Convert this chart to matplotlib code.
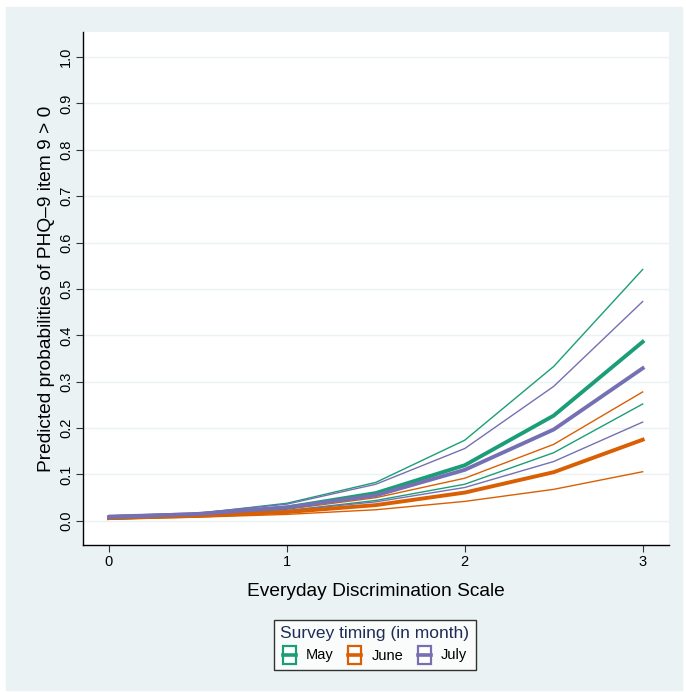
import matplotlib
matplotlib.use("Agg")
import matplotlib.pyplot as plt
from matplotlib.lines import Line2D
from matplotlib.patches import Rectangle
from matplotlib.legend_handler import HandlerBase

plt.rcParams["font.family"] = ["Liberation Sans", "DejaVu Sans"]

# Everyday Discrimination Scale values
eds = [0, 0.5, 1, 1.5, 2, 2.5, 3]

# predicted probabilities (thick) and 95% CI bounds (thin)
may_pred = [0.006, 0.013, 0.029, 0.060, 0.120, 0.227, 0.386]
may_lo = [0.004, 0.010, 0.022, 0.044, 0.079, 0.147, 0.252]
may_hi = [0.011, 0.016, 0.038, 0.083, 0.174, 0.333, 0.542]

june_pred = [0.006, 0.011, 0.019, 0.034, 0.061, 0.105, 0.175]
june_lo = [0.004, 0.008, 0.014, 0.024, 0.042, 0.068, 0.106]
june_hi = [0.009, 0.014, 0.025, 0.050, 0.092, 0.165, 0.278]

july_pred = [0.008, 0.015, 0.029, 0.055, 0.110, 0.197, 0.329]
july_lo = [0.005, 0.012, 0.022, 0.041, 0.072, 0.128, 0.213]
july_hi = [0.012, 0.017, 0.036, 0.079, 0.156, 0.290, 0.473]

months = ["May", "June", "July"]
colors = ["#1b9e77", "#d95f02", "#7570b3"]
series = [(may_pred, may_lo, may_hi), (june_pred, june_lo, june_hi),
          (july_pred, july_lo, july_hi)]

BG = "#eaf2f3"
W, H = 686, 692


class BoxKey(HandlerBase):
    """Stata-style key: outlined box with the estimate line through the middle."""
    def create_artists(self, legend, orig, xd, yd, width, height, fontsize, trans):
        c = orig.get_color()
        box = Rectangle((-xd, -yd), width, height, facecolor="white",
                        edgecolor=c, lw=1.6, transform=trans)
        mid = -yd + height / 2
        line = Line2D([-xd, -xd + width], [mid, mid], color=c, lw=2.6,
                      transform=trans)
        return [box, line]


fig = plt.figure(figsize=(W / 100, H / 100), dpi=100)
fig.patches.append(Rectangle((6 / W, 1 - 690 / H), 676 / W, 683 / H,
                             transform=fig.transFigure, color=BG, zorder=-10))

ax = fig.add_axes([83 / W, 1 - 545 / H, 586 / W, 513 / H])
ax.set_facecolor("white")

# CI bounds first, then the point estimates on top
for (pred, lo, hi), c in zip(series, colors):
    ax.plot(eds, lo, color=c, lw=1.0, zorder=2)
    ax.plot(eds, hi, color=c, lw=1.0, zorder=2)
lines = []
for (pred, lo, hi), c in zip(series, colors):
    ln, = ax.plot(eds, pred, color=c, lw=2.8, zorder=3)
    lines.append(ln)

ax.set_xlim(-0.146, 3.148)
ax.set_ylim(-0.052, 1.054)
ax.set_xticks([0, 1, 2, 3])
ax.set_yticks([i / 10 for i in range(11)])
ax.set_yticklabels([f"{i / 10:.1f}" for i in range(11)], rotation=90, va="center")
ax.tick_params(axis="both", labelsize=10.5, length=5, width=0.8, color="#333333",
               labelcolor="black", pad=2)
ax.grid(axis="y", color=BG, lw=1.0, zorder=0)
ax.set_axisbelow(True)
for side in ("top", "right"):
    ax.spines[side].set_visible(False)
for side in ("left", "bottom"):
    ax.spines[side].set_color("black")
    ax.spines[side].set_linewidth(1.0)

ax.set_xlabel("Everyday Discrimination Scale", fontsize=13.8, labelpad=10)
ax.set_ylabel("Predicted probabilities of PHQ\u20139 item 9 > 0", fontsize=13.8, labelpad=3)

leg = fig.legend(lines, months, ncol=3, loc="center",
                 bbox_to_anchor=(375 / W, 1 - 645 / H),
                 title="Survey timing (in month)", title_fontsize=12.5, fontsize=10.5,
                 handler_map={Line2D: BoxKey()},
                 handlelength=0.9, handleheight=1.5, handletextpad=0.7,
                 columnspacing=1.0, fancybox=False, frameon=True,
                 borderpad=0.45, labelspacing=0.3)
leg.get_frame().set_edgecolor("black")
leg.get_frame().set_linewidth(1.0)
leg.get_title().set_color("#1f2d56")

fig.savefig("out.png", dpi=100, facecolor="white")
